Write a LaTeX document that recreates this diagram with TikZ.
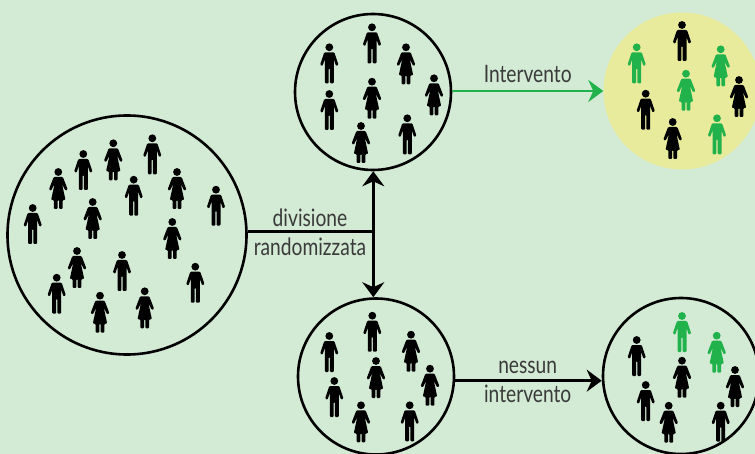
\documentclass[tikz,border=0pt]{standalone}
\usepackage{fontspec}
\setmainfont[FakeStretch=0.8]{Lato}
\usetikzlibrary{arrows.meta}
\definecolor{paper}{HTML}{D3EAD5}
\definecolor{lemon}{HTML}{E8EB9C}
\definecolor{treated}{HTML}{22B24C}
\definecolor{inkgray}{HTML}{3A3A3A}
\tikzset{
  crowd/.style={circle,draw=black,line width=2.6pt,inner sep=0pt,minimum size=156pt},
  link/.style={line width=2.8pt,-{Stealth[length=15pt,width=22pt,inset=5pt]}},
  lbl/.style={anchor=base,text=inkgray,inner sep=0pt,font=\fontsize{24}{28}\selectfont},
  man/.pic={
    \fill[pic actions] (0,0) circle[radius=3.9];
    \fill[pic actions,rounded corners=1pt] (-5,5)--(-9.2,17.5)--(-6.8,18.8)--(-4.5,12)--(-4.5,36)--(-0.6,36)--(-0.6,21)--(0.6,21)--(0.6,36)--(4.5,36)--(4.5,12)--(6.8,18.8)--(9.2,17.5)--(5,5)--cycle;
  },
  woman/.pic={
    \fill[pic actions] (0,0) circle[radius=3.9];
    \fill[pic actions,rounded corners=1pt] (-4.6,5)--(-9.4,17.5)--(-7.2,18.8)--(-3.8,12)--(-7.2,28)--(-4.4,28)--(-4.4,37)--(-0.7,37)--(-0.7,28)--(0.7,28)--(0.7,37)--(4.4,37)--(4.4,28)--(7.2,28)--(3.8,12)--(7.2,18.8)--(9.4,17.5)--(4.6,5)--cycle;
  }
}
\begin{document}
\begin{tikzpicture}[x=1pt,y=-1pt]
\path[use as bounding box,fill=paper] (0,0) rectangle (755,454);

\node[crowd,minimum size=239pt] (popolazione) at (127,235) {};
\node[crowd] (gruppoA) at (373,92) {};
\node[crowd] (gruppoB) at (376,376.5) {};
\node[circle,fill=lemon,inner sep=0pt,minimum size=157pt] (esitoA) at (682,91) {};
\node[crowd] (esitoB) at (681,376) {};

\coordinate (divisione) at (373.3,231.7);
\coordinate (livelloB) at (530,380.7);
\draw[line width=2.8pt] (popolazione.east |- divisione)--(divisione);
\draw[link] (divisione)--(gruppoA.south -| divisione);
\draw[link] (divisione)--(gruppoB.north -| divisione);
\draw[link,draw=treated,fill=treated] (gruppoA.east |- esitoA)--(esitoA.west);
\draw[link] (gruppoB.east |- livelloB)--(esitoB.west |- livelloB);

\node[lbl] (lblDiv) at (310,226.7) {divisione};
\node[lbl] (lblRand) at (310,255.3) {randomizzata};
\node[lbl] (lblInt) at (527.7,82.3) {Intervento};
\node[lbl] (lblNes) at (527.7,373.3) {nessun};
\node[lbl] (lblNint) at (527.7,402.7) {intervento};

% popolazione
\pic at (152.3,138.3) {man};
\pic at (83.3,154) {man};
\pic at (133.7,179.7) {man};
\pic at (216,189.7) {man};
\pic at (32.7,208) {man};
\pic at (122,255) {man};
\pic at (195.3,266.7) {man};
\pic at (56.7,277.7) {man};
\pic at (113.3,143.3) {woman};
\pic at (58.3,172) {woman};
\pic at (177,172) {woman};
\pic at (92.7,202) {woman};
\pic at (172.3,222) {woman};
\pic at (77,251) {woman};
\pic at (144.7,291.3) {woman};
\pic at (100,295.7) {woman};

% gruppo A
\pic at (372,27.3) {man};
\pic at (329.3,47.3) {man};
\pic at (329.3,94) {man};
\pic at (407.3,118.3) {man};
\pic at (406,47.3) {woman};
\pic at (434,78.3) {woman};
\pic at (372,81.7) {woman};
\pic at (361,126) {woman};

% gruppo B
\pic at (372.3,315.7) {man};
\pic at (329.3,336) {man};
\pic at (334.3,381) {man};
\pic at (409.7,405.3) {man};
\pic at (411,334.7) {woman};
\pic at (430,368.7) {woman};
\pic at (376,361) {woman};
\pic at (361,405.3) {woman};

% esito A
\pic at (682,25) {man};
\pic[fill=treated] at (636.7,47.3) {man};
\pic[fill=treated] at (720.7,49.3) {woman};
\pic[fill=treated] at (686,73.7) {woman};
\pic at (739,80) {woman};
\pic at (645.7,93.7) {man};
\pic at (672.7,122) {woman};
\pic[fill=treated] at (717,118.3) {man};

% esito B
\pic[fill=treated] at (682,316) {man};
\pic[fill=treated] at (716.7,335.7) {woman};
\pic at (636.7,340) {man};
\pic at (682,360.7) {woman};
\pic at (735,370) {woman};
\pic at (645.7,385) {man};
\pic at (668.7,405.7) {woman};
\pic at (720.7,405.7) {man};
\end{tikzpicture}
\end{document}
